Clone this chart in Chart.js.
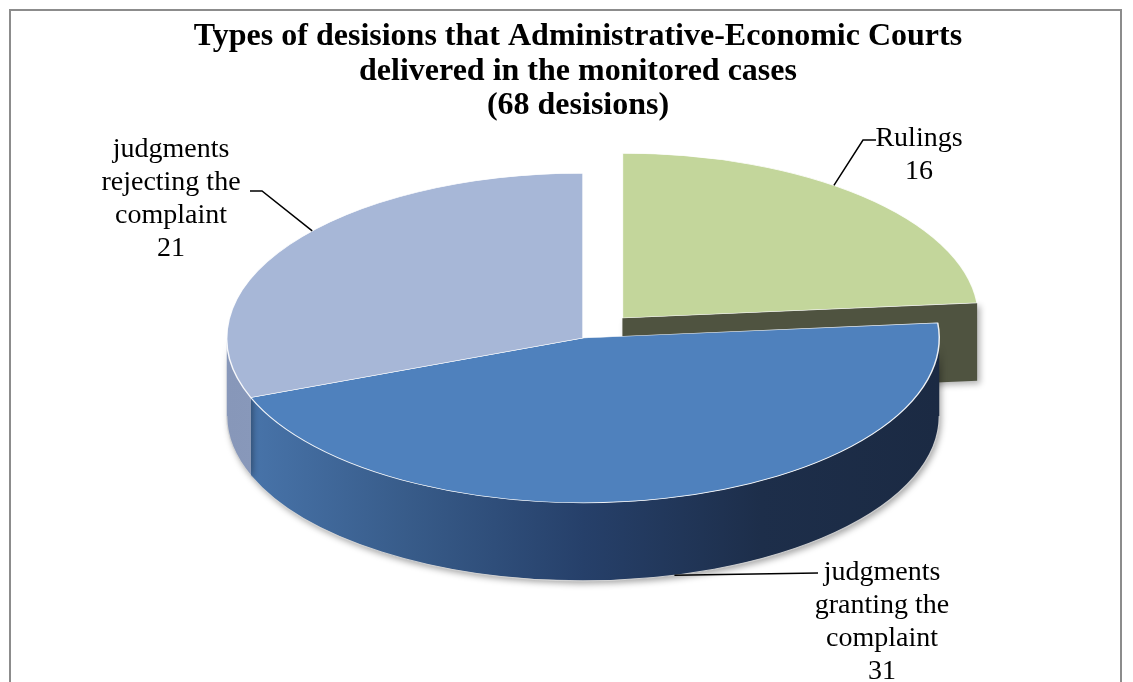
<!DOCTYPE html>
<html>
<head>
<meta charset="utf-8">
<title>Types of decisions</title>
<script src="https://cdn.jsdelivr.net/npm/chart.js@4.4.1/dist/chart.umd.min.js"></script>
<style>
  html, body { margin: 0; padding: 0; background: #ffffff; }
  #wrap { position: relative; width: 1133px; height: 682px; }
  canvas { display: block; }
</style>
</head>
<body>
<div id="wrap"><canvas id="pie" width="1133" height="682"></canvas></div>
<script>
// ---- data ----
const categories = ['Rulings', 'judgments\ngranting the\ncomplaint', 'judgments\nrejecting the\ncomplaint'];
const decisions = [16, 31, 21];
const titleLines = ['Types of desisions that Administrative-Economic Courts', 'delivered in the monitored cases', '(68 desisions)'];

// ---- styling ----
const topColors = ['#C3D69B', '#4F81BD', '#A7B7D7'];
const wallStops = [
  ['#565b46', '#4b503c'],
  ['#4a77ae', '#385c8a', '#26406a', '#1d2e4a', '#1b2a43'],
  ['#8797b9', '#a0b0d0']
];
const faceColors = ['#4f5340', '#2c4670', '#8e9dbf'];
const explode = [39, 0, 0];               // pull-out distance per slice (untilted radius units)
const tilt = { sx: 1.5, sy: 0.694, depth: 78 };

// label blocks: text anchor (centre x, first baseline), where the leader meets the slice
// (fraction of the slice sweep) and the leader's elbow/end points
const labelPlacement = [
  { x: 919, y: 146, at: 0.43, path: [[863, 140], [876, 140]] },
  { x: 882, y: 580, at: 0.49, path: [[818, 573]] },
  { x: 171, y: 157, at: 0.555, path: [[262, 191], [250, 191]] }
];

function geom(arc, i) {
  const mid = (arc.startAngle + arc.endAngle) / 2;
  const e = explode[i] || 0;
  return {
    cx: arc.x + Math.cos(mid) * e * tilt.sx,
    cy: arc.y + Math.sin(mid) * e * tilt.sy,
    rx: arc.outerRadius * tilt.sx,
    ry: arc.outerRadius * tilt.sy,
    a0: arc.startAngle, a1: arc.endAngle, mid
  };
}

function wallFill(ctx, g, i) {
  const grad = ctx.createLinearGradient(g.cx - g.rx, 0, g.cx + g.rx, 0);
  const stops = wallStops[i];
  stops.forEach((c, k) => grad.addColorStop(k / (stops.length - 1), c));
  return grad;
}

function drawWall(ctx, g, i) {
  const D = tilt.depth;
  for (let k = -1; k <= 1; k++) {
    const lo = Math.max(g.a0, k * 2 * Math.PI);
    const hi = Math.min(g.a1, k * 2 * Math.PI + Math.PI);
    if (hi <= lo) continue;
    ctx.save();
    ctx.shadowColor = 'rgba(0,0,0,0.35)';
    ctx.shadowBlur = 6;
    ctx.shadowOffsetX = 2;
    ctx.shadowOffsetY = 3;
    ctx.beginPath();
    ctx.ellipse(g.cx, g.cy, g.rx, g.ry, 0, lo, hi);
    ctx.ellipse(g.cx, g.cy + D, g.rx, g.ry, 0, hi, lo, true);
    ctx.closePath();
    ctx.fillStyle = wallFill(ctx, g, i);
    ctx.fill();
    ctx.restore();
    ctx.beginPath();
    ctx.ellipse(g.cx, g.cy + D, g.rx, g.ry, 0, lo, hi);
    ctx.strokeStyle = 'rgba(215,215,215,0.9)';
    ctx.lineWidth = 1.2;
    ctx.stroke();
  }
}

function drawFace(ctx, g, ang, color) {
  const D = tilt.depth;
  const px = g.cx + g.rx * Math.cos(ang);
  const py = g.cy + g.ry * Math.sin(ang);
  ctx.save();
  ctx.shadowColor = 'rgba(0,0,0,0.3)';
  ctx.shadowBlur = 6;
  ctx.shadowOffsetX = 3;
  ctx.shadowOffsetY = 3;
  ctx.beginPath();
  ctx.moveTo(g.cx, g.cy);
  ctx.lineTo(px, py);
  ctx.lineTo(px, py + D);
  ctx.lineTo(g.cx, g.cy + D);
  ctx.closePath();
  ctx.fillStyle = color;
  ctx.fill();
  ctx.restore();
}

function drawTop(chart, ctx, arc, g) {
  ctx.save();
  ctx.translate(g.cx, g.cy);
  ctx.scale(tilt.sx, tilt.sy);
  ctx.translate(-arc.x, -arc.y);
  arc.draw(ctx, chart.chartArea);
  ctx.restore();
}

const pie3d = {
  id: 'pie3d',
  beforeDatasetDraw(chart, args) {
    const ctx = chart.ctx;
    const arcs = args.meta.data;
    const gs = arcs.map((a, i) => geom(a, i));
    const back = [], rest = [];
    arcs.forEach((a, i) => ((explode[i] && Math.sin(gs[i].mid) < 0) ? back : rest).push(i));
    const solid = i => {
      const g = gs[i];
      if (explode[i]) {
        if (Math.cos(g.a1) > 0.001) drawFace(ctx, g, g.a1, faceColors[i]);
        if (-Math.cos(g.a0) > 0.001) drawFace(ctx, g, g.a0, faceColors[i]);
      }
      drawWall(ctx, g, i);
    };
    back.forEach(i => { solid(i); drawTop(chart, ctx, arcs[i], gs[i]); });
    rest.forEach(solid);
    rest.forEach(i => drawTop(chart, ctx, arcs[i], gs[i]));
    return false;
  },
  afterDraw(chart) {
    const ctx = chart.ctx;
    const arcs = chart.getDatasetMeta(0).data;
    ctx.save();
    // frame
    ctx.strokeStyle = '#8c8c8c';
    ctx.lineWidth = 2;
    ctx.strokeRect(10, 10, 1111, 700);
    // title
    ctx.fillStyle = '#000';
    ctx.textAlign = 'center';
    ctx.textBaseline = 'alphabetic';
    ctx.font = 'bold 32px "Liberation Serif", "Times New Roman", serif';
    titleLines.forEach((t, k) => ctx.fillText(t, 578, 45 + k * 34.5));
    // slice labels with leader lines
    ctx.font = '28px "Liberation Serif", "Times New Roman", serif';
    arcs.forEach((arc, i) => {
      const g = geom(arc, i);
      const p = labelPlacement[i];
      const ang = g.a0 + (g.a1 - g.a0) * p.at;
      const front = Math.sin(ang) > 0.5;
      const ax = g.cx + g.rx * Math.cos(ang);
      const ay = g.cy + g.ry * Math.sin(ang) + (front ? tilt.depth : 0);
      ctx.beginPath();
      ctx.moveTo(ax, ay);
      p.path.forEach(pt => ctx.lineTo(pt[0], pt[1]));
      ctx.strokeStyle = '#000';
      ctx.lineWidth = 1.5;
      ctx.stroke();
      const lines = categories[i].split('\n').concat(String(decisions[i]));
      lines.forEach((t, k) => ctx.fillText(t, p.x, p.y + k * 33));
    });
    ctx.restore();
  }
};

new Chart(document.getElementById('pie'), {
  type: 'pie',
  data: {
    labels: categories,
    datasets: [{
      data: decisions,
      backgroundColor: topColors,
      borderColor: 'rgba(255,255,255,0.9)',
      borderWidth: 1,
      offset: 0
    }]
  },
  options: {
    responsive: false,
    animation: false,
    events: [],
    rotation: 0,
    layout: { padding: { left: 300, right: 267, top: 100, bottom: 106 } },
    plugins: {
      legend: { display: false },
      title: { display: false },
      tooltip: { enabled: false }
    }
  },
  plugins: [pie3d]
});
</script>
</body>
</html>
